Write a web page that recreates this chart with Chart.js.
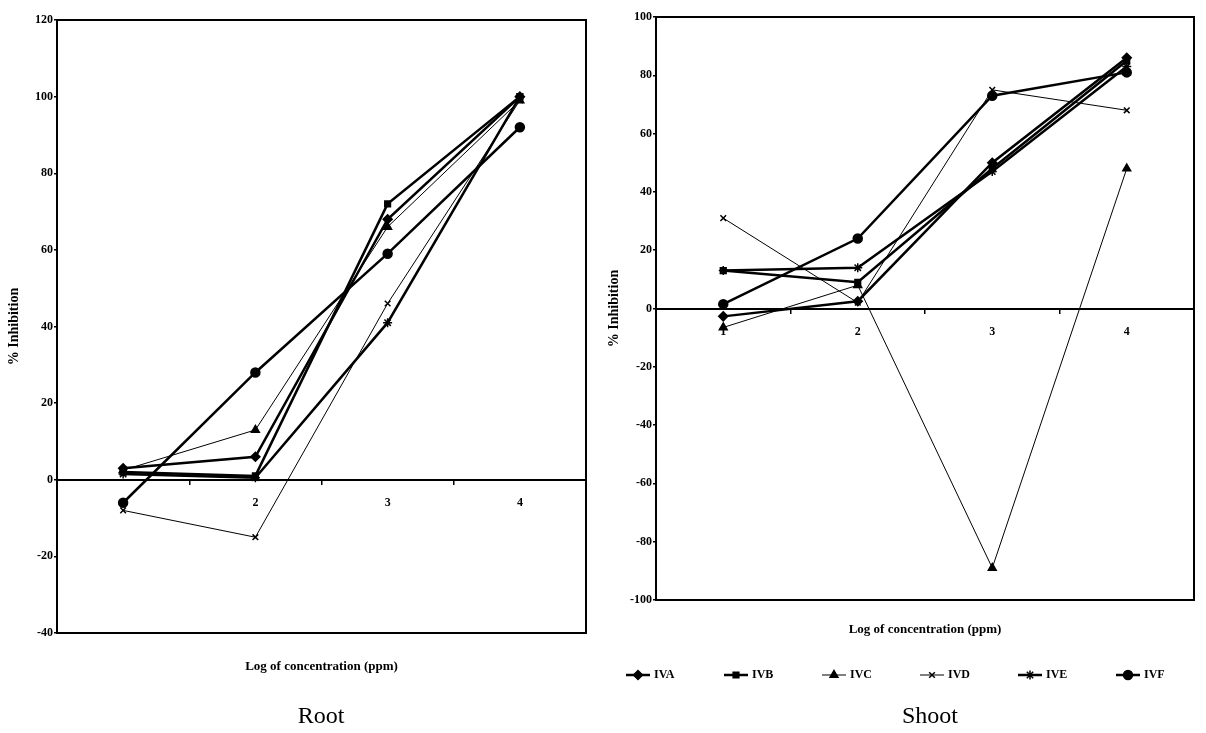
<!DOCTYPE html>
<html>
<head>
<meta charset="utf-8">
<script src="https://cdn.jsdelivr.net/npm/chart.js@4.4.1/dist/chart.umd.min.js"></script>
<style>
  body { margin: 0; background: #fff; width: 1206px; height: 733px; position: relative; overflow: hidden;
         font-family: "Liberation Serif", "Times New Roman", serif; color: #000; }
  #rootChart { position: absolute; left: 0; top: 0; }
  #shootChart { position: absolute; left: 600px; top: 0; }
  .caption { position: absolute; width: 200px; text-align: center; font-size: 24px; line-height: 30px; }
  #legend { position: absolute; left: 626px; top: 667px; display: flex; font-weight: bold; font-size: 12px; }
  #legend .item { width: 98px; display: flex; align-items: center; }
  #legend canvas { margin-right: 4px; }
</style>
</head>
<body>
<canvas id="rootChart" width="600" height="733"></canvas>
<canvas id="shootChart" width="606" height="733"></canvas>
<div id="legend"></div>
<div class="caption" style="left:221px; top:700px;">Root</div>
<div class="caption" style="left:830px; top:700px;">Shoot</div>

<script>
// log of concentration (ppm)
const xValues = [1, 2, 3, 4];
const seriesNames = ["IVA", "IVB", "IVC", "IVD", "IVE", "IVF"];

// % inhibition, root
const rootIVA = [3, 6, 68, 100];
const rootIVB = [2, 1, 72, 100];
const rootIVC = [2.5, 13, 66, 99];
const rootIVD = [-8, -15, 46, 99];
const rootIVE = [1.5, 0.5, 41, 100];
const rootIVF = [-6, 28, 59, 92];

// % inhibition, shoot
const shootIVA = [-2.7, 2.5, 50, 86];
const shootIVB = [13, 9, 48, 85];
const shootIVC = [-6.5, 8, -89, 48];
const shootIVD = [31, 2, 75, 68];
const shootIVE = [13, 14, 47, 83];
const shootIVF = [1.5, 24, 73, 81];

const rootTicksY = [-40, 120, 20];
const shootTicksY = [-100, 100, 20];

// marker / line look for each series
const markers = ["rectRot", "rect", "triangle", "crossRot", "star", "circle"];
const markerSizes = [4.5, 4, 4.5, 4, 4.5, 4.5];
const lineWidths = [2.5, 2.5, 1, 1, 2.5, 2.5];

const fontFamily = '"Liberation Serif", "Times New Roman", serif';
const tickFont = { family: fontFamily, size: 12, weight: "bold" };
const titleFont = { family: fontFamily, size: 13, weight: "bold" };

// box round the plot area
const framePlugin = {
    id: "frame",
    beforeDatasetsDraw(chart) {
        const { ctx, chartArea: a } = chart;
        ctx.save();
        ctx.strokeStyle = "#000";
        ctx.lineWidth = 2;
        ctx.strokeRect(a.left, a.top, a.right - a.left, a.bottom - a.top);
        ctx.restore();
    },
};

function buildDatasets(seriesList) {
    return seriesList.map((values, i) => ({
        label: seriesNames[i],
        data: xValues.map((x, j) => ({ x: x, y: values[j] })),
        borderColor: "#000",
        backgroundColor: "#000",
        borderWidth: lineWidths[i],
        pointStyle: markers[i],
        pointRadius: markerSizes[i],
        pointBackgroundColor: "#000",
        pointBorderColor: "#000",
        pointBorderWidth: 1.5,
        tension: 0,
        clip: false,
    }));
}

function makeChart(id, seriesList, yTicks, yWidth, padding, xTitleHeight) {
    return new Chart(document.getElementById(id), {
        type: "line",
        data: { datasets: buildDatasets(seriesList) },
        options: {
            responsive: false,
            animation: false,
            layout: { padding: padding },
            plugins: { legend: { display: false }, tooltip: { enabled: false } },
            scales: {
                x: {
                    type: "linear",
                    position: { y: 0 },
                    min: 0.5,
                    max: 4.5,
                    ticks: {
                        stepSize: 0.5,
                        autoSkip: false,
                        maxRotation: 0,
                        padding: 12,
                        color: "#000",
                        font: tickFont,
                        callback: (v) => (Number.isInteger(v) ? v : ""),
                    },
                    grid: {
                        drawOnChartArea: false,
                        drawTicks: true,
                        tickLength: 4,
                        lineWidth: 1.5,
                        color: (c) => (c.tick && !Number.isInteger(c.tick.value) ? "#000" : "rgba(0,0,0,0)"),
                    },
                    border: { color: "#000", width: 2 },
                },
                xTitle: {
                    type: "linear",
                    position: "bottom",
                    min: 0.5,
                    max: 4.5,
                    ticks: { display: false },
                    grid: { display: false },
                    border: { display: false },
                    title: {
                        display: true,
                        text: "Log of concentration (ppm)",
                        color: "#000",
                        font: titleFont,
                        padding: { top: 4, bottom: 4 },
                    },
                    afterFit: (scale) => { scale.height = xTitleHeight; },
                },
                y: {
                    type: "linear",
                    min: yTicks[0],
                    max: yTicks[1],
                    ticks: { stepSize: yTicks[2], color: "#000", font: tickFont, padding: 1 },
                    grid: { drawOnChartArea: false, tickLength: 3, color: "#000", lineWidth: 1.5 },
                    border: { color: "#000", width: 2 },
                    title: {
                        display: true,
                        text: "% Inhibition",
                        color: "#000",
                        font: { family: fontFamily, size: 14, weight: "bold" },
                        padding: { top: 6, bottom: 2 },
                    },
                    afterFit: (scale) => { scale.width = yWidth; },
                },
            },
        },
        plugins: [framePlugin],
    });
}

makeChart("rootChart",
    [rootIVA, rootIVB, rootIVC, rootIVD, rootIVE, rootIVF],
    rootTicksY, 57, { top: 20, right: 14, bottom: 55, left: 0 }, 45);

let shootChart = makeChart("shootChart",
    [shootIVA, shootIVB, shootIVC, shootIVD, shootIVE, shootIVF],
    shootTicksY, 56, { top: 17, right: 3, bottom: 92, left: 0 }, 41);

// legend under the shoot chart: line with marker, then name
function drawIcon(canvas, ds) {
    const c = canvas.getContext("2d");
    c.strokeStyle = "#000";
    c.fillStyle = "#000";
    c.lineWidth = ds.borderWidth;
    c.beginPath();
    c.moveTo(0, 7);
    c.lineTo(canvas.width, 7);
    c.stroke();
    c.lineWidth = 1.5;
    Chart.helpers.drawPoint(c, {
        pointStyle: ds.pointStyle,
        radius: ds.pointRadius,
        rotation: 0,
        borderWidth: 1.5,
    }, canvas.width / 2, 7);
}

const legendDiv = document.getElementById("legend");
shootChart.data.datasets.forEach((ds) => {
    const item = document.createElement("div");
    item.className = "item";
    const icon = document.createElement("canvas");
    icon.width = 24;
    icon.height = 14;
    drawIcon(icon, ds);
    item.appendChild(icon);
    const label = document.createElement("span");
    label.textContent = ds.label;
    item.appendChild(label);
    legendDiv.appendChild(item);
});
</script>
</body>
</html>
